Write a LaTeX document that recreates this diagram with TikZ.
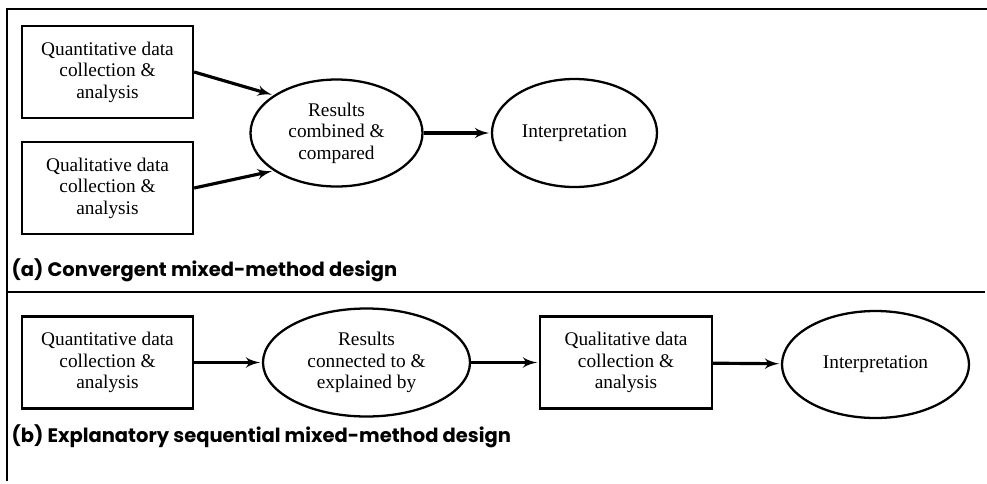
\documentclass[tikz,border=0pt]{standalone}
\usepackage{fontspec}
\setmainfont{Liberation Serif}
\newfontfamily\captionfont{Poppins}
\usetikzlibrary{arrows, shapes.geometric}

\begin{document}
\begin{tikzpicture}[->,>=latex',shorten >=1pt,auto,node distance=4.76cm,
  line width=1.8pt,
  data node/.style={rectangle,draw,line width=1.3pt,minimum width=3.42cm,minimum height=1.84cm,
    inner sep=0pt,align=center,font=\fontsize{11}{12.2}\selectfont},
  result node/.style={ellipse,draw,line width=1.3pt,minimum width=3.44cm,minimum height=2.14cm,
    inner sep=0pt,align=center,font=\fontsize{11}{12.2}\selectfont},
  design label/.style={anchor=base west,inner sep=0pt,font=\captionfont\bfseries\fontsize{11.1}{14}\selectfont}]

  \useasboundingbox (0,0) rectangle (19.74,-9.66);

  % (a) convergent
  \node[data node] (qa) at (2.15,-1.44) {Quantitative data\\collection \&\\analysis};
  \node[data node] (ql) [below of=qa, node distance=2.32cm] {Qualitative data\\collection \&\\analysis};
  \node[result node] (res) at (6.73,-2.66) {Results\\combined \&\\compared};
  \node[result node, minimum width=3.3cm, minimum height=2.16cm] (int) [right of=res] {Interpretation};

  % (b) explanatory sequential
  \node[data node] (qb) at (2.15,-7.25) {Quantitative data\\collection \&\\analysis};
  \node[result node, minimum width=4.14cm, minimum height=2.16cm] (con) [right of=qb, node distance=5.18cm] {Results\\connected to \&\\explained by};
  \node[data node, minimum width=3.44cm] (qlb) [right of=con, node distance=5.19cm] {Qualitative data\\collection \&\\analysis};
  \node[result node, minimum width=3.74cm, yshift=-0.04cm] (intb) [right of=qlb, node distance=4.99cm] {Interpretation};

  \path (qa.east) edge (res.149)
    (ql.east) edge (res.211)
    (res) edge (int)
    (qb) edge (con)
    (con) edge (qlb)
    (qlb) edge (intb);

  \node[design label] (lbla) at (0.2,-5.52) {(a) Convergent mixed-method design};
  \node[design label] (lblb) at (0.2,-8.84) {(b) Explanatory sequential mixed-method design};

  \draw[-,line width=0.8pt] (19.74,-0.18) -| (0.14,-9.66);
  \draw[-,line width=0.8pt] (0.14,-5.84) -- (19.74,-5.84);
\end{tikzpicture}
\end{document}
